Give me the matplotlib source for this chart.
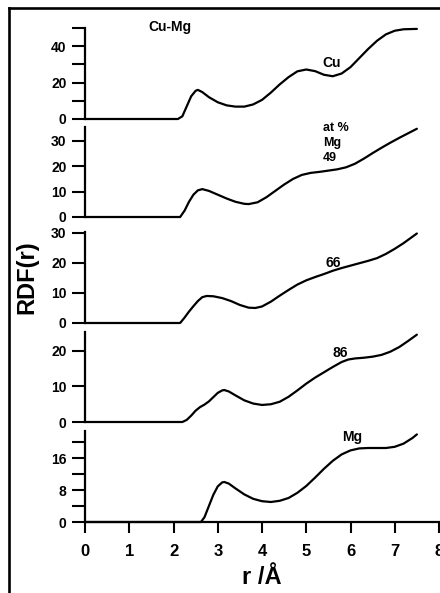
import matplotlib
matplotlib.use("Agg")
import matplotlib.pyplot as plt
from matplotlib.lines import Line2D
from matplotlib.ticker import MultipleLocator

plt.rcParams['font.family'] = ['Liberation Sans', 'DejaVu Sans']
plt.rcParams['font.weight'] = 'bold'

# Radial distribution functions of liquid Cu-Mg alloys (r in Angstrom)
r_cu = [0, 2.1, 2.2, 2.3, 2.4, 2.5, 2.55, 2.65, 2.8, 3.0, 3.2, 3.4, 3.6, 3.8, 4.0,
        4.2, 4.4, 4.6, 4.8, 5.0, 5.2, 5.4, 5.6, 5.8, 6.0, 6.2, 6.4, 6.6, 6.8,
        7.0, 7.2, 7.5]
g_cu = [0, 0, 1.5, 7, 12.5, 15.5, 16, 14.8, 12, 9.2, 7.5, 6.8, 6.8, 8, 10.5,
        14.5, 19, 23, 26.2, 27.2, 26.3, 24.3, 23.5, 25, 28.5, 33.5, 38.5, 43, 46.5,
        48.5, 49.3, 49.5]

r_49 = [0, 2.15, 2.25, 2.35, 2.45, 2.55, 2.65, 2.8, 3.0, 3.2, 3.4, 3.6, 3.7, 3.9,
        4.1, 4.3, 4.5, 4.7, 4.9, 5.1, 5.3, 5.5, 5.7, 5.9, 6.1, 6.3, 6.5, 6.7,
        6.9, 7.1, 7.3, 7.5]
g_49 = [0, 0, 2.5, 6, 8.8, 10.5, 11, 10.3, 8.8, 7.3, 6, 5.2, 5.1, 5.8,
        7.8, 10.3, 12.8, 15, 16.6, 17.4, 17.8, 18.3, 18.8, 19.6, 21, 23, 25.2, 27.3,
        29.3, 31.2, 33, 34.8]

r_66 = [0, 2.15, 2.25, 2.35, 2.45, 2.55, 2.65, 2.75, 2.9, 3.1, 3.3, 3.5, 3.7, 3.85,
        4.0, 4.2, 4.4, 4.6, 4.8, 5.0, 5.2, 5.4, 5.6, 5.8, 6.0, 6.2, 6.4, 6.6,
        6.8, 7.0, 7.2, 7.35, 7.5]
g_66 = [0, 0, 1.8, 3.8, 5.6, 7.3, 8.6, 9, 8.9, 8.3, 7.3, 6, 5.1, 5,
        5.5, 7.1, 9.1, 11, 12.8, 14.2, 15.3, 16.3, 17.4, 18.3, 19.1, 19.9, 20.7, 21.6,
        23, 24.7, 26.6, 28.2, 29.8]

r_86 = [0, 2.2, 2.3, 2.4, 2.5, 2.6, 2.7, 2.8, 2.9, 3.0, 3.1, 3.15, 3.25, 3.4, 3.6,
        3.8, 4.0, 4.2, 4.4, 4.6, 4.8, 5.0, 5.2, 5.4, 5.6, 5.8, 5.95, 6.1, 6.3,
        6.5, 6.7, 6.9, 7.1, 7.3, 7.5]
g_86 = [0, 0, 0.6, 1.8, 3.2, 4.2, 4.9, 5.8, 7, 8.2, 8.9, 9, 8.6, 7.5, 6.1,
        5.2, 4.8, 5, 5.7, 7.1, 8.9, 10.8, 12.5, 14, 15.5, 16.9, 17.6, 17.9, 18.1,
        18.4, 18.9, 19.8, 21.1, 22.8, 24.6]

r_mg = [0, 2.62, 2.7, 2.8, 2.9, 3.0, 3.1, 3.15, 3.25, 3.4, 3.6, 3.8, 4.0, 4.2,
        4.4, 4.6, 4.8, 5.0, 5.2, 5.4, 5.6, 5.8, 6.0, 6.2, 6.4, 6.6, 6.8, 7.0,
        7.2, 7.4, 7.5]
g_mg = [0, 0, 1.2, 4, 6.8, 8.9, 9.9, 10, 9.6, 8.4, 6.9, 5.8, 5.2, 5,
        5.3, 6, 7.3, 9, 11.1, 13.3, 15.3, 16.9, 17.9, 18.4, 18.5, 18.5, 18.5, 18.8,
        19.6, 21, 21.9]

x_ticks = [0, 1, 2, 3, 4, 5, 6, 7, 8]

W, H = 440, 593
fig = plt.figure(figsize=(W / 100, H / 100), dpi=100)

# (r, g, y-top, major step, minor step, pixel row of zero, pixel row of top)
panels = [
    (r_cu, g_cu, 50, 20, 10, 119, 28),
    (r_49, g_49, 35.5, 10, 10, 217, 127),
    (r_66, g_66, 30.3, 10, 10, 323, 232),
    (r_86, g_86, 25.35, 10, 10, 422, 332),
    (r_mg, g_mg, 22.75, 8, 4, 522, 431),
]

x_left, x_right = 85, 439
axes = []
for i, (r, g, ytop, major, minor, y0px, ytpx) in enumerate(panels):
    ax = fig.add_axes([x_left / W, 1 - y0px / H, (x_right - x_left) / W, (y0px - ytpx) / H])
    ax.plot(r, g, color='black', lw=1.6, clip_on=False, solid_joinstyle='round',
            solid_capstyle='round')
    ax.set_xlim(0, 8)
    ax.set_ylim(0, ytop)
    for s in ['top', 'right']:
        ax.spines[s].set_visible(False)
    ax.spines['left'].set_linewidth(1.6)
    ax.spines['bottom'].set_linewidth(1.6)
    ax.yaxis.set_major_locator(MultipleLocator(major))
    ax.yaxis.set_minor_locator(MultipleLocator(minor))
    ax.tick_params(axis='y', which='both', direction='out', length=9.4, width=1.5,
                   pad=4, labelsize=10)
    if i < len(panels) - 1:
        ax.spines['bottom'].set_visible(False)
        ax.set_xticks([])
    else:
        ax.set_xticks(x_ticks)
        ax.tick_params(axis='x', direction='out', length=8, width=1.5, pad=8,
                       labelsize=12)
    ax.patch.set_alpha(0)
    axes.append(ax)

axes[0].text(1.92, 50.5, 'Cu-Mg', ha='center', va='center', fontsize=10, fontweight='bold')
axes[0].text(5.58, 30.5, 'Cu', ha='center', va='center', fontsize=10, fontweight='bold')
axes[1].text(5.38, 29.2, 'at %\nMg\n49', ha='left', va='center', fontsize=9,
             fontweight='bold', linespacing=1.3)
axes[2].text(5.6, 20, '66', ha='center', va='center', fontsize=10, fontweight='bold')
axes[3].text(5.76, 19.4, '86', ha='center', va='center', fontsize=10, fontweight='bold')
axes[4].text(6.03, 21.25, 'Mg', ha='center', va='center', fontsize=10, fontweight='bold')

fig.text(262 / W, 1 - 578 / H, 'r /Å', ha='center', va='center', fontsize=17,
         fontweight='bold')
fig.text(27 / W, 1 - 277 / H, 'RDF(r)', ha='center', va='center', fontsize=17,
         fontweight='bold', rotation=90)

# Outer frame (left and top edges)
fig.add_artist(Line2D([9 / W, 9 / W], [1 - 8 / H, 0], color='black', lw=1.9,
                      transform=fig.transFigure))
fig.add_artist(Line2D([9 / W, 1], [1 - 8 / H, 1 - 8 / H], color='black', lw=1.9,
                      transform=fig.transFigure))

fig.savefig('out.png', dpi=100)
